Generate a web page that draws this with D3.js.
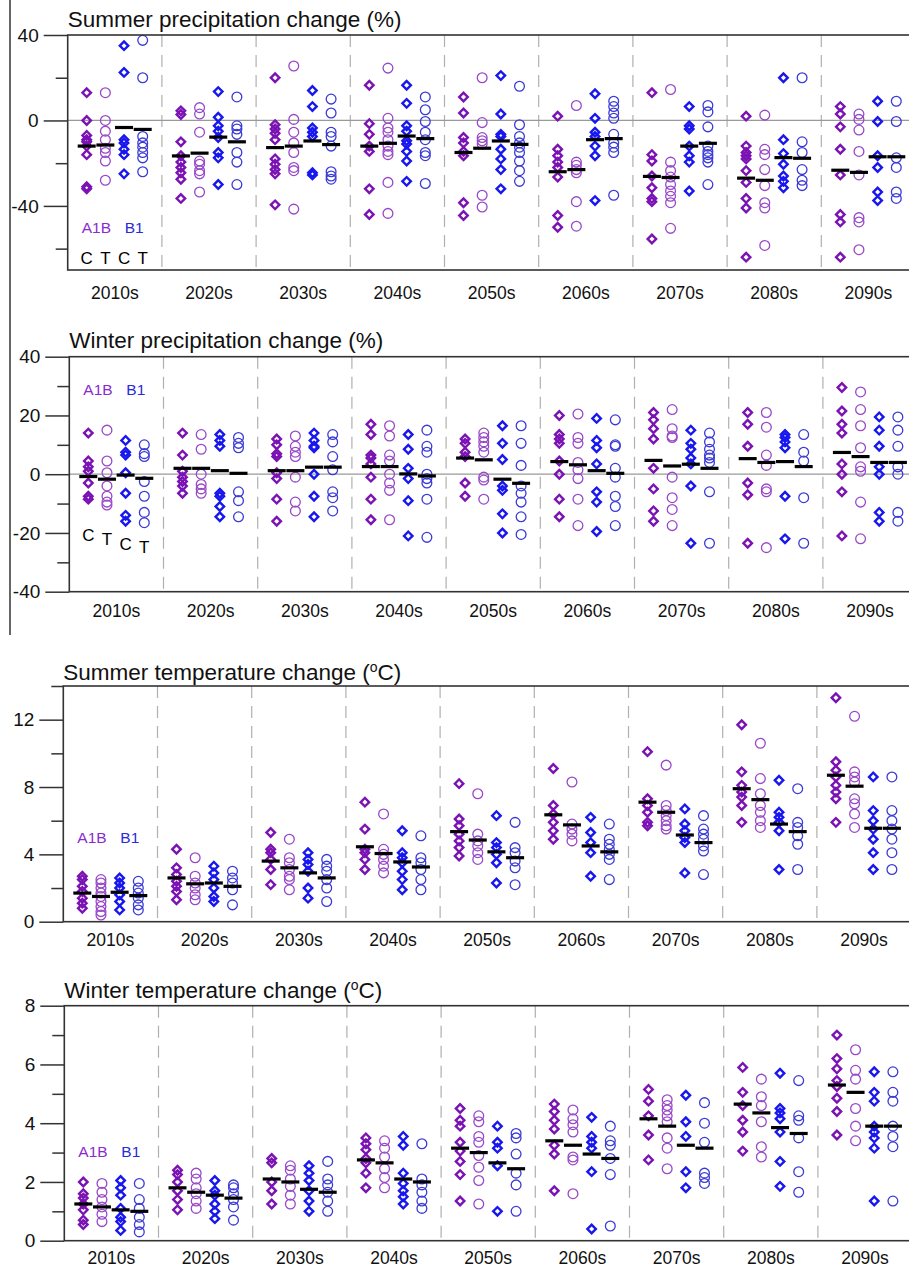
<!DOCTYPE html>
<html>
<head>
  <meta charset="utf-8">
  <script src="https://d3js.org/d3.v7.min.js"></script>
  <style>
    body { margin: 0; background: #fff; }
    text { font-family: "Liberation Sans", Arial, sans-serif; }
    .frame { fill: none; stroke: #333; stroke-width: 1.6; }
    .sep { stroke: #b0b0b0; stroke-width: 1.2; stroke-dasharray: 12 8; }
    .zero { stroke: #999; stroke-width: 1.2; }
    .axis path { display: none; }
    .axis line { stroke: #333; stroke-width: 1.5; }
    .axis text { font-size: 19px; fill: #111; }
  </style>
</head>
<body>
  <script>
    // decades and the four runs (scenario + C/T)
    var decades = ["2010s", "2020s", "2030s", "2040s", "2050s", "2060s", "2070s", "2080s", "2090s"];
    var runs = ["A1B-C", "A1B-T", "B1-C", "B1-T"];

    // Summer precipitation change (%): per decade, per run
    var summerPrecip = [
      [[13,0,-7,-9,-10,-12,-16,-31,-32],[13,0,-5,-9,-13,-15,-19,-28],[35,22.5,-9,-10.5,-13.5,-16,-25],[37.5,20,-7.5,-10.5,-12.5,-15,-17.5,-24]],
      [[4.5,2.8,-10,-16.5,-19.5,-22,-24.5,-27.5,-36.5],[6,3,-5.5,-19,-20.5,-23.5,-25,-33.5],[13.5,1.5,-2.5,-5,-8,-15,-17.5,-30],[11,-2.5,-4,-6.5,-15,-19.5,-30]],
      [[20,-2,-4,-6,-9,-18,-20.5,-23,-25,-39.5],[25.5,0.5,-5.5,-10.5,-15,-22,-23.5,-41.5],[14,6.5,-3.5,-5.5,-7.5,-24.5,-25.5],[10,3.5,-5.5,-7.5,-12,-24,-26,-27.5]],
      [[16.5,-1.5,-6.5,-12,-14.5,-32,-44],[24.5,1,-3.5,-5.5,-9,-12,-14.5,-16,-29,-43.5],[16.5,8,-2.5,-5,-9.5,-11,-14.5,-19,-28.5],[11,5,-0.5,-5.5,-9,-15,-16.5,-29.5]],
      [[11,3.5,-8,-10.5,-14.5,-16.5,-38.5,-44.5],[20,-1,-8,-9.5,-11,-35,-40.5],[21,3,-6.5,-7.5,-13.5,-18,-23,-32],[16,-2,-7.5,-10.5,-12.5,-15,-19,-23.5,-28.5]],
      [[2,-13.5,-16.5,-19.5,-22,-26.5,-44.5,-50],[7,-19.5,-21,-23,-24.5,-38,-49.5],[12.5,1,-5.5,-7.5,-12,-16.5,-37.5],[9,6.5,3.5,1,-6.5,-10.5,-12.5,-15,-35]],
      [[13,-16,-19,-26,-31.5,-36.5,-38,-55.5],[14.5,-19.5,-23.5,-26.5,-30,-33,-35.5,-38.5,-50.5],[6.5,-2.5,-4,-12,-16.5,-19.5,-33],[7,4,-3,-12,-14.5,-16,-17.5,-19.5,-30]],
      [[2,-12,-15,-16.5,-18,-23.5,-29,-36.5,-41,-64],[2.5,-13.5,-16,-23,-30.5,-38.5,-41,-58.5],[20,-9,-15.5,-20.5,-26,-28.5,-31.5],[20,-10,-15,-23,-28,-30.5]],
      [[6.5,3,-3,-13.5,-25.5,-44,-47.5,-64],[3,0.5,-4.5,-14.5,-25.5,-45.5,-47.5,-60.5],[9,-0.5,-16.5,-22,-33.5,-37.5],[9,-0.5,-17.5,-22,-33.5,-36.5]]
    ];
    var summerPrecipMean = [[-12,-11.5,-3.3,-4.2],[-16.6,-15.3,-7.8,-10],[-12.7,-12,-9.6,-11.3],[-12,-10.7,-7.3,-8.5],[-15,-13,-9.6,-11.2],[-24,-23,-9,-8.5],[-26.2,-26.7,-12,-10.7],[-27,-28,-17.4,-17.7],[-23.3,-24.3,-17,-17]];

    // Winter precipitation change (%)
    var winterPrecip = [
      [[14,4.5,2.5,1,-3,-7.5,-8.5],[15,4.5,0.5,-4,-7.5,-9.5,-10.5],[11.5,7.5,6.5,0.5,-6.5,-14,-16],[10,7,6,-2.5,-7.5,-13,-16.5]],
      [[14,6.5,1,-1,-2.5,-4,-6.5],[13.5,8.5,0,-3.5,-5,-6.5],[13.5,11.5,9.5,-6.5,-7.5,-11,-14.5],[12.5,10.5,9,-6,-9,-14.5]],
      [[12,10,7,6,0.5,-1.5,-8.5,-16],[13,9.5,7.5,6,-1,-9.5,-12.5],[14,11.5,9.5,9,0,-7.5,-14.5],[13.5,11,6,1.5,-6,-8,-12.5]],
      [[17,13.5,6.5,5.5,3.5,-1,-8.5,-15.5],[16.5,13,6.5,4.5,0,-3,-5.5,-15.5],[13.5,8.5,2,-1.5,-9,-21],[15,9.5,7.5,0,-1.5,-3,-8.5,-21.5]],
      [[12,10.5,7.5,6,-3,-7.5],[14,12.5,11,9.5,7.5,-1,-2,-8.5],[16.5,10.5,5,-4,-5.5,-13.5,-20],[16.5,10.5,3,-4,-6.5,-9.5,-14.5,-20.5]],
      [[20,13.5,12,10.5,4.5,0,-8.5,-14.5],[20.5,12.5,10.5,4,1.5,-1.5,-8.5,-17.5],[19,11.5,9,3.5,-6,-9.5,-19.5],[18.5,10,9.5,2,-1,-7.5,-11,-17.5]],
      [[21,18.5,15.5,12,2,-5,-12.5,-16],[22,15.5,13,12.5,-1,-8,-12,-17.5],[15,10.5,8.5,5.5,3.5,-4,-23.5],[14,11,8.5,6.5,5.5,4,-6,-23.5]],
      [[21,17,9.5,-3,-7,-23.5],[21,16,6.5,3,-5,-6,-25],[13.5,12.5,11,9,-7.5,-22],[13.5,7.5,4.5,-8,-23.5]],
      [[29.5,21.5,17,14,3.5,0,-6,-21],[28,22,16.5,9,2.5,1,-9.5,-22],[19.5,15,9.5,2.5,0,-13,-16],[19.5,15,9.5,2.5,0,-13,-16]]
    ];
    var winterPrecipMean = [[-0.8,-1.7,-0.3,-1.4],[2,2,1.2,0.3],[1.2,1.2,2.4,2.4],[2.6,2.6,0.1,-0.6],[5.5,4.9,-1.7,-3.1],[4.3,3.2,1.2,0.3],[4.7,2.8,3.4,2],[5.3,4,4.3,2.6],[7.4,6,4,4]];

    // Summer temperature change (oC)
    var summerTemp = [
      [[2.7,2.5,2.1,1.8,1.4,1.1,0.8],[2.5,2.3,2,1.7,1.5,1.2,0.9,0.6,0.4],[2.6,2.3,2,1.6,1.2,0.7],[2.4,2,1.7,1.4,1,0.7]],
      [[4.3,3.2,2.8,2.4,2.1,1.8,1.3],[3.8,2.7,2.3,2,1.6,1.3],[3.3,2.9,2.5,2,1.5,1.2],[3,2.6,2.3,1.9,1]],
      [[5.3,4.3,4.1,3.7,3.1,2.2],[4.9,3.8,3.5,3.1,2.7,2.5,1.9],[4.1,3.7,3.4,3,2,1.4],[3.7,3.3,3,2.5,2,1.2]],
      [[7.1,5.5,4.3,4.1,3.7,3.1],[6.4,4.3,4,3.7,3.3,2.9],[5.4,4.1,3.8,3.5,3,2.5,1.9],[5.1,3.8,3.5,3.1,2.5,1.9]],
      [[8.2,6.1,5.7,5.2,4.8,4.4,3.9],[7.6,5.2,4.8,4.5,4.1,3.7],[6.3,4.7,4.4,4,3.5,2.3],[5.9,4.4,4.1,3.6,3.2,2.2]],
      [[9.1,6.9,6.4,5.9,5.4,4.9],[8.3,5.8,5.5,5.2,4.8],[6.2,5.3,4.7,4.1,2.7],[5.8,4.9,4.6,4.3,4,3.7,2.5]],
      [[10.1,7.3,6.9,6.5,5.9,5.7],[9.3,6.9,6.6,6.3,6,5.7,5.5],[6.7,5.8,5.4,5,4.7,2.9],[6.3,5.5,5.2,4.9,4.5,4.2,2.8]],
      [[11.7,8.9,8.1,7.7,7.4,6.9,5.9],[10.6,8.5,7.6,6.9,6.5,6,5.6],[8.4,6.5,6.2,5.9,5.4,3.1],[7.9,5.9,5.6,5.1,4.6,3.1]],
      [[13.3,9.5,9,8.6,8.1,7.7,7.3,5.9],[12.2,8.9,8.6,8.3,7.3,7,6.4,5.6],[8.6,6.6,6,5.5,4.9,4.1,3.1],[8.6,6.6,6,5.5,4.9,4.1,3.1]]
    ];
    var summerTempMean = [[1.7,1.5,1.75,1.55],[2.6,2.25,2.3,2.1],[3.6,3.2,2.9,2.6],[4.45,4.05,3.55,3.25],[5.35,4.85,4.15,3.8],[6.35,5.75,4.5,4.15],[7.1,6.5,5.15,4.7],[7.9,7.25,5.8,5.35],[8.7,8.05,5.55,5.55]];

    // Winter temperature change (oC)
    var winterTemp = [
      [[2,1.6,1.45,1.25,1.05,0.7,0.55],[1.95,1.65,1.4,1.15,0.9,0.65],[2.05,1.8,1.55,1.1,0.8,0.65,0.35],[1.95,1.4,1.1,0.8,0.55,0.3]],
      [[2.4,2.25,2,1.7,1.4,1.05],[2.3,2.1,1.8,1.6,1.35,1.1],[2.05,1.7,1.55,1.25,1,0.75],[1.9,1.8,1.6,1.4,1.15,0.7]],
      [[2.8,2.65,2,1.7,1.25],[2.55,2.4,2.1,1.85,1.55,1.25],[2.55,2.3,2.05,1.7,1.35,1],[2.7,2.1,1.9,1.65,1.35,1]],
      [[3.5,3.3,3.1,2.8,2.65,2.3,1.8],[3.4,3.15,2.85,2.45,2.15,1.8],[3.55,3.25,2.3,1.95,1.7,1.5,1.25],[3.3,2.1,1.9,1.65,1.35,1.1]],
      [[4.5,4.1,3.9,3.35,3.05,2.7,2.25,1.35],[4.25,4.05,3.55,3.35,2.9,2.5,2.05,1.25],[3.9,3.35,3.15,2.55,1],[3.65,3.5,2.95,2.3,1.9,1]],
      [[4.65,4.4,4.1,3.8,3.25,2.95,1.7],[4.45,4.15,3.95,3.7,2.85,2.75,1.6],[4.2,3.55,3.35,3.15,2.35,0.4],[3.9,3.4,3.25,2.8,2.25,0.5]],
      [[5.15,4.75,4.25,3.6,2.75],[4.8,4.6,4.45,4.25,4.05,3.5,3.15,2.45],[4.95,4.05,3.55,2.35,1.8],[4.7,4,3.35,2.3,2.15,1.95]],
      [[5.9,5.05,4.6,4.1,3.7,3.05],[5.5,4.9,4.6,4.05,3.2,2.85],[5.7,4.5,4.35,4.15,3.7,2.7,1.85],[5.45,4.25,4.1,3.5,2.35,1.65]],
      [[7,6.2,5.85,5.45,5.25,4.85,4.4,3.6],[6.5,5.8,5.5,4.5,3.9,3.4],[5.75,5.05,4.75,3.9,3.7,3.5,3.15,1.35],[5.75,5.05,4.75,3.9,3.55,3.2,1.35]]
    ];
    var winterTempMean = [[1.25,1.15,1.05,1],[1.8,1.65,1.55,1.45],[2.1,2,1.75,1.65],[2.75,2.65,2.1,2],[3.15,3,2.65,2.45],[3.4,3.25,2.95,2.8],[4.15,3.9,3.25,3.15],[4.65,4.35,3.85,3.65],[5.3,5.05,3.9,3.9]];

    var colors = { "A1B-C": "#7a12b4", "A1B-T": "#9848c8", "B1-C": "#1818ee", "B1-T": "#3a3ad6" };

    var svg = d3.select("body").append("svg")
      .attr("width", 909)
      .attr("height", 1267);

    // stray left border of the top figure
    svg.append("line").attr("x1", 10).attr("x2", 10).attr("y1", 0).attr("y2", 635)
      .attr("stroke", "#333").attr("stroke-width", 1.5);

    var panels = [
      { title: "Summer precipitation change (%)", unit: null, data: summerPrecip, mean: summerPrecipMean,
        left: 67.7, top: 35, bottom: 270, domain: [-70, 40], major: [-40, 0, 40], minor: [-60, -20, 20],
        titleY: 27, labelY: 299, zero: true, legendY: 233, ctY: [264, 264, 264, 264] },
      { title: "Winter precipitation change (%)", unit: null, data: winterPrecip, mean: winterPrecipMean,
        left: 69.3, top: 356.7, bottom: 591.7, domain: [-40, 40], major: [-40, -20, 0, 20, 40], minor: [-30, -10, 10, 30],
        titleY: 348, labelY: 617, zero: true, legendY: 395, ctY: [541, 545, 550, 553] },
      { title: "Summer temperature change (", unit: "C)", data: summerTemp, mean: summerTempMean,
        left: 63.3, top: 686, bottom: 921.7, domain: [0, 14], major: [0, 4, 8, 12], minor: [2, 6, 10, 14],
        titleY: 680, labelY: 946, zero: false, legendY: 843, ctY: null },
      { title: "Winter temperature change (", unit: "C)", data: winterTemp, mean: winterTempMean,
        left: 64.3, top: 1005.7, bottom: 1240.7, domain: [0, 8], major: [0, 2, 4, 6, 8], minor: [1, 3, 5, 7],
        titleY: 998, labelY: 1264, zero: false, legendY: 1157, ctY: null }
    ];

    var decadeW = 94.2;

    panels.forEach(function(p) {
      var right = p.left + decadeW * decades.length;
      var x = d3.scaleBand().domain(decades).range([p.left, right]).padding(0);
      var inner = d3.scalePoint().domain(runs).range([19, 75]);
      var y = d3.scaleLinear().domain(p.domain).range([p.bottom, p.top]);
      var g = svg.append("g");

      // title
      var t = g.append("text").attr("x", p.left).attr("y", p.titleY)
        .attr("font-size", 22.5).attr("fill", "#111").text(p.title);
      if (p.unit) {
        t.append("tspan").attr("dy", -8).attr("font-size", 14).text("o");
        t.append("tspan").attr("dy", 8).text(p.unit);
      }

      // axes ticks
      g.append("g").attr("class", "axis").attr("transform", "translate(" + p.left + ",0)")
        .call(d3.axisLeft(y).tickValues(p.major).tickSize(24).tickPadding(5)
          .tickFormat(function(d) { return String(d); }));
      g.append("g").attr("class", "axis").attr("transform", "translate(" + p.left + ",0)")
        .call(d3.axisLeft(y).tickValues(p.minor).tickSize(12).tickFormat(""));

      // decade separators
      g.selectAll(".sep").data(decades.slice(1)).enter().append("line")
        .attr("class", "sep")
        .attr("x1", function(d) { return x(d); }).attr("x2", function(d) { return x(d); })
        .attr("y1", p.top).attr("y2", p.bottom);

      if (p.zero) {
        g.append("line").attr("class", "zero")
          .attr("x1", p.left).attr("x2", right).attr("y1", y(0)).attr("y2", y(0));
      }

      // decade labels
      g.selectAll(".dl").data(decades).enter().append("text")
        .attr("x", function(d) { return x(d) + x.bandwidth() / 2; })
        .attr("y", p.labelY).attr("text-anchor", "middle")
        .attr("font-size", 17.5).attr("fill", "#111").text(function(d) { return d; });

      // points
      var pts = [];
      p.data.forEach(function(dec, i) {
        dec.forEach(function(vals, j) {
          vals.forEach(function(v) { pts.push({ dec: decades[i], run: runs[j], v: v }); });
        });
      });
      var diamond = d3.symbol().type(d3.symbolSquare).size(36);
      var circle = d3.symbol().type(d3.symbolCircle).size(75);
      g.selectAll(".pt").data(pts).enter().append("path")
        .attr("d", function(d) { return d.run.slice(-1) === "C" ? diamond() : circle(); })
        .attr("transform", function(d) {
          var tx = x(d.dec) + inner(d.run), ty = y(d.v);
          return "translate(" + tx + "," + ty + ")" + (d.run.slice(-1) === "C" ? " rotate(45)" : "");
        })
        .attr("fill", "none")
        .attr("stroke", function(d) { return colors[d.run]; })
        .attr("stroke-width", function(d) { return d.run.slice(-1) === "C" ? 2.4 : 1.3; });

      // ensemble means
      var means = [];
      p.mean.forEach(function(dec, i) {
        dec.forEach(function(v, j) { means.push({ dec: decades[i], run: runs[j], v: v }); });
      });
      g.selectAll(".mean").data(means).enter().append("line")
        .attr("x1", function(d) { return x(d.dec) + inner(d.run) - 9; })
        .attr("x2", function(d) { return x(d.dec) + inner(d.run) + 9; })
        .attr("y1", function(d) { return y(d.v); }).attr("y2", function(d) { return y(d.v); })
        .attr("stroke", "#000").attr("stroke-width", 3.2);

      // frame
      g.append("rect").attr("class", "frame")
        .attr("x", p.left).attr("y", p.top)
        .attr("width", right - p.left).attr("height", p.bottom - p.top);

      // legend
      var d0 = x(decades[0]);
      g.append("text").attr("x", d0 + 14).attr("y", p.legendY).attr("font-size", 15.5)
        .attr("fill", "#8a2bd0").text("A1B");
      g.append("text").attr("x", d0 + 57).attr("y", p.legendY).attr("font-size", 15.5)
        .attr("fill", "#2a2ad8").text("B1");
      if (p.ctY) {
        g.selectAll(".ct").data(runs).enter().append("text")
          .attr("x", function(d) { return d0 + inner(d); })
          .attr("y", function(d, i) { return p.ctY[i]; })
          .attr("text-anchor", "middle").attr("font-size", 17).attr("fill", "#000")
          .text(function(d) { return d.slice(-1); });
      }
    });
  </script>
</body>
</html>
